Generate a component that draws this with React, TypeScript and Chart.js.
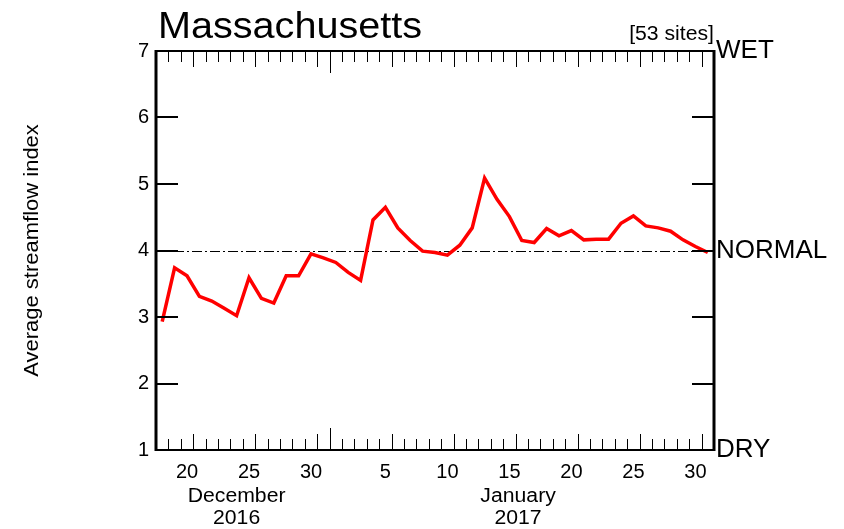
import React, { useEffect, useRef } from 'react';
import { Chart, registerables } from 'chart.js';

Chart.register(...registerables);

// ---------- data ----------
const TITLE = 'Massachusetts';
const SITES = '[53 sites]';
const Y_TITLE = 'Average streamflow index';

const dates = [
  '2016-12-18', '2016-12-19', '2016-12-20', '2016-12-21', '2016-12-22', '2016-12-23', '2016-12-24',
  '2016-12-25', '2016-12-26', '2016-12-27', '2016-12-28', '2016-12-29', '2016-12-30', '2016-12-31',
  '2017-01-01', '2017-01-02', '2017-01-03', '2017-01-04', '2017-01-05', '2017-01-06', '2017-01-07',
  '2017-01-08', '2017-01-09', '2017-01-10', '2017-01-11', '2017-01-12', '2017-01-13', '2017-01-14',
  '2017-01-15', '2017-01-16', '2017-01-17', '2017-01-18', '2017-01-19', '2017-01-20', '2017-01-21',
  '2017-01-22', '2017-01-23', '2017-01-24', '2017-01-25', '2017-01-26', '2017-01-27', '2017-01-28',
  '2017-01-29', '2017-01-30', '2017-01-31',
];

const values = [
  2.93, 3.74, 3.62, 3.31, 3.24, 3.13, 3.02,
  3.59, 3.28, 3.21, 3.62, 3.62, 3.95, 3.89,
  3.82, 3.67, 3.55, 4.46, 4.65, 4.34, 4.15,
  3.99, 3.97, 3.93, 4.08, 4.34, 5.09, 4.77,
  4.51, 4.15, 4.12, 4.33, 4.22, 4.30, 4.16,
  4.17, 4.17, 4.41, 4.52, 4.37, 4.34, 4.29,
  4.16, 4.06, 3.97,
];

const axisStart = '2016-12-18';
const axisEnd = '2017-02-01';
const monthBoundary = '2017-01-01';

const dayTickLabels = ['20', '25', '30', '5', '10', '15', '20', '25', '30'];
const dayTickDates = [
  '2016-12-20', '2016-12-25', '2016-12-30', '2017-01-05', '2017-01-10',
  '2017-01-15', '2017-01-20', '2017-01-25', '2017-01-30',
];

const monthLabels = ['December', 'January'];
const yearLabels = ['2016', '2017'];

const yMin = 1;
const yMax = 7;
const classValues = [1, 4, 7];
const classLabels = ['DRY', 'NORMAL', 'WET'];
const normalValue = 4;

// ---------- helpers ----------
const ORIGIN = Date.UTC(2016, 11, 1);
function dayNum(iso: string): number {
  const [y, m, d] = iso.split('-').map(Number);
  return (Date.UTC(y, m - 1, d) - ORIGIN) / 86400000;
}
const dayCenter = (iso: string) => dayNum(iso) + 0.5;

const FONT = '"Liberation Sans", Arial, Helvetica, sans-serif';

const points = dates.map((d, i) => ({ x: dayCenter(d), y: values[i] }));

function stretchedText(
  ctx: CanvasRenderingContext2D,
  text: string,
  x: number,
  y: number,
  size: number,
  sx: number,
  align: CanvasTextAlign,
) {
  ctx.save();
  ctx.font = `${size}px ${FONT}`;
  ctx.textAlign = align;
  ctx.textBaseline = 'alphabetic';
  ctx.fillStyle = '#000';
  ctx.translate(x, y);
  ctx.scale(sx, 1);
  ctx.fillText(text, 0, 0);
  ctx.restore();
}

const framePlugin = {
  id: 'streamflowFrame',
  beforeDatasetsDraw(chart: any) {
    const { ctx, chartArea } = chart;
    const ys = chart.scales.y;
    const yp = Math.round(ys.getPixelForValue(normalValue)) + 0.5;
    ctx.save();
    ctx.strokeStyle = '#000';
    ctx.lineWidth = 1;
    ctx.setLineDash([10, 3, 2, 3]);
    ctx.beginPath();
    ctx.moveTo(chartArea.left, yp);
    ctx.lineTo(chartArea.right, yp);
    ctx.stroke();
    ctx.restore();
  },
  afterDraw(chart: any) {
    const { ctx, chartArea } = chart;
    const { left, right, top, bottom } = chartArea;
    const xs = chart.scales.x;
    const ys = chart.scales.y;
    ctx.save();
    ctx.strokeStyle = '#000';
    ctx.setLineDash([]);

    // x tick marks (top and bottom, inward)
    const mb = dayNum(monthBoundary);
    const start = Math.ceil(xs.min) + 1;
    const end = Math.floor(xs.max) - 1;
    ctx.lineWidth = 1;
    for (let v = start; v <= end; v++) {
      const dom = v <= mb ? v : v - mb;
      let len = 11;
      if (v === mb) len = 22;
      else if (dom % 5 === 0) len = 16;
      const px = Math.round(xs.getPixelForValue(v)) + 0.5;
      ctx.beginPath();
      ctx.moveTo(px, bottom);
      ctx.lineTo(px, bottom - len);
      ctx.moveTo(px, top);
      ctx.lineTo(px, top + len);
      ctx.stroke();
    }

    // y tick marks (left and right, inward)
    ctx.lineWidth = 2;
    for (let v = yMin + 1; v < yMax; v++) {
      const py = Math.round(ys.getPixelForValue(v));
      ctx.beginPath();
      ctx.moveTo(left, py);
      ctx.lineTo(left + 22, py);
      ctx.moveTo(right, py);
      ctx.lineTo(right - 22, py);
      ctx.stroke();
    }

    // frame
    ctx.lineWidth = 2;
    ctx.beginPath();
    ctx.moveTo(left, top);
    ctx.lineTo(right, top);
    ctx.moveTo(left, bottom);
    ctx.lineTo(right, bottom);
    ctx.stroke();
    ctx.lineWidth = 3;
    ctx.beginPath();
    ctx.moveTo(left, top - 1);
    ctx.lineTo(left, bottom + 1);
    ctx.moveTo(right, top - 1);
    ctx.lineTo(right, bottom + 1);
    ctx.stroke();
    ctx.restore();

    // texts
    stretchedText(ctx, TITLE, left + 2, 38, 37, 1.07, 'left');
    stretchedText(ctx, SITES, right, 39.5, 20, 1.06, 'right');

    const monthPos = [23.5, 46.2];
    monthLabels.forEach((m, i) => {
      const px = xs.getPixelForValue(monthPos[i]);
      stretchedText(ctx, m, px, 502, 20, 1.06, 'center');
      stretchedText(ctx, yearLabels[i], px, 524, 20, 1.06, 'center');
    });

    // y-axis title (rotated)
    ctx.save();
    ctx.font = `20px ${FONT}`;
    ctx.fillStyle = '#000';
    ctx.textAlign = 'center';
    ctx.textBaseline = 'middle';
    ctx.translate(32, (top + bottom) / 2);
    ctx.rotate(-Math.PI / 2);
    ctx.scale(1.1, 1);
    ctx.fillText(Y_TITLE, 0, 0);
    ctx.restore();
  },
};

export default function App() {
  const ref = useRef<HTMLCanvasElement | null>(null);

  useEffect(() => {
    document.body.style.margin = '0';
    const canvas = ref.current;
    if (!canvas) return;
    const chart = new Chart(canvas, {
      type: 'line',
      data: {
        datasets: [
          {
            data: points,
            borderColor: '#ff0000',
            borderWidth: 3.5,
            pointRadius: 0,
            tension: 0,
            fill: false,
          },
        ],
      },
      options: {
        animation: false,
        responsive: false,
        devicePixelRatio: 1,
        layout: { padding: { top: 51, left: 0, right: 0, bottom: 0 } },
        plugins: {
          legend: { display: false },
          tooltip: { enabled: false },
          title: { display: false },
        },
        scales: {
          x: {
            type: 'linear',
            min: dayNum(axisStart),
            max: dayNum(axisEnd),
            grid: { display: false, drawTicks: false },
            border: { display: false },
            afterBuildTicks: (s: any) => {
              s.ticks = dayTickDates.map((d) => ({ value: dayCenter(d) }));
            },
            afterFit: (s: any) => {
              s.height = 79;
            },
            ticks: {
              autoSkip: false,
              maxRotation: 0,
              minRotation: 0,
              padding: 10,
              color: '#000',
              font: { family: FONT, size: 20 },
              callback: (_v: any, i: number) => dayTickLabels[i],
            },
          },
          y: {
            type: 'linear',
            position: 'left',
            min: yMin,
            max: yMax,
            grid: { display: false, drawTicks: false },
            border: { display: false },
            afterFit: (s: any) => {
              s.width = 156;
            },
            ticks: {
              stepSize: 1,
              padding: 7,
              color: '#000',
              font: { family: FONT, size: 20 },
            },
          },
          y2: {
            type: 'linear',
            position: 'right',
            min: yMin,
            max: yMax,
            grid: { display: false, drawTicks: false },
            border: { display: false },
            afterBuildTicks: (s: any) => {
              s.ticks = classValues.map((v) => ({ value: v }));
            },
            afterFit: (s: any) => {
              s.width = 130;
            },
            ticks: {
              padding: 2,
              color: '#000',
              font: { family: FONT, size: 26 },
              callback: (_v: any, i: number) => classLabels[i],
            },
          },
        },
      },
      plugins: [framePlugin],
    });
    return () => chart.destroy();
  }, []);

  return (
    <div style={{ position: 'absolute', left: 0, top: 0, width: 844, height: 529, background: '#fff' }}>
      <canvas ref={ref} width={844} height={529} style={{ width: 844, height: 529, display: 'block' }} />
    </div>
  );
}
